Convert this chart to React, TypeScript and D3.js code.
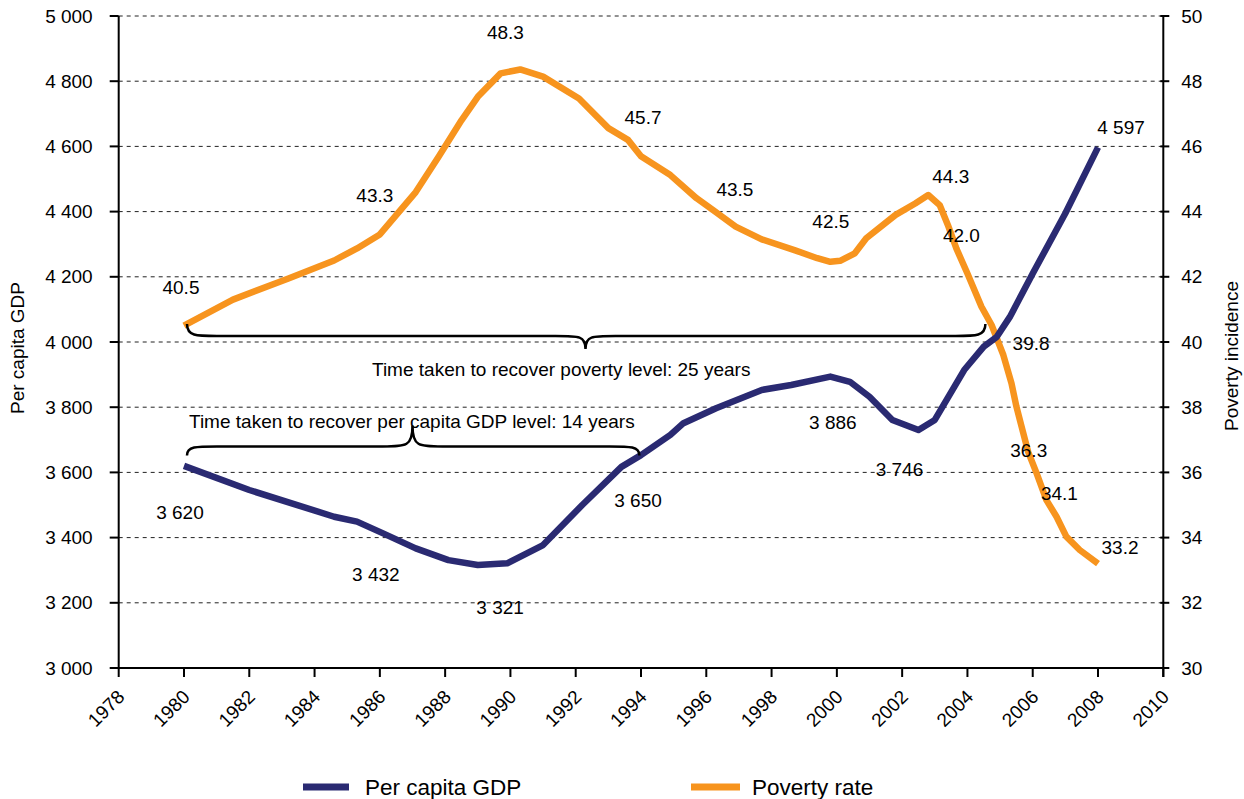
import React from "react";
import * as d3 from "d3";

// per capita GDP (left axis)
const gdpYears = [1980, 1982, 1984.6, 1985.3, 1986.1, 1987.1, 1988.1, 1989, 1989.9, 1991, 1992.2, 1993.4, 1994, 1994.9, 1995.3, 1996.3, 1997.7, 1998.6, 1999.8, 2000.4, 2001, 2001.7, 2002.5, 2003, 2003.9, 2004.5, 2004.9, 2005.3, 2006, 2007, 2008];
const gdpValues = [3620, 3546, 3464, 3449, 3413, 3367, 3331, 3316, 3321, 3377, 3500, 3617, 3653, 3715, 3751, 3797, 3853, 3868, 3894, 3878, 3832, 3761, 3730, 3761, 3914, 3986, 4016, 4077, 4210, 4395, 4597];

// poverty incidence (right axis)
const povYears = [1980, 1981.5, 1983.2, 1984.6, 1985.3, 1986, 1987.1, 1987.8, 1988.5, 1989, 1989.7, 1990.3, 1991, 1992.1, 1993, 1993.6, 1994, 1994.9, 1995.7, 1996.2, 1996.9, 1997.7, 1998.7, 1999.4, 1999.8, 2000.1, 2000.55, 2000.9, 2001.8, 2002.4, 2002.8, 2003.15, 2003.4, 2003.66, 2004, 2004.43, 2004.74, 2005.1, 2005.35, 2005.5, 2005.66, 2005.86, 2006.12, 2006.42, 2006.73, 2007.03, 2007.44, 2008];
const povValues = [40.5, 41.3, 41.95, 42.5, 42.87, 43.3, 44.6, 45.68, 46.8, 47.52, 48.24, 48.36, 48.14, 47.47, 46.56, 46.2, 45.7, 45.12, 44.41, 44.05, 43.54, 43.15, 42.82, 42.57, 42.46, 42.49, 42.72, 43.18, 43.9, 44.25, 44.51, 44.2, 43.59, 42.87, 42.1, 41.08, 40.52, 39.6, 38.73, 38.02, 37.4, 36.63, 35.97, 35.15, 34.64, 34.03, 33.62, 33.2];

// value labels: [year, value, dx, dy]
const gdpLabels: [number, number, number, number][] = [
  [1980, 3620, -4, 47], [1986, 3432, -4, 47], [1989.5, 3321, 6, 44], [1994, 3650, -3, 44],
  [2000, 3886, -4, 43], [2002.5, 3746, -19, 45], [2008, 4597, 23, -20],
];
const povLabels: [number, number, number, number][] = [
  [1980, 40.5, -3, -38], [1986, 43.3, -5, -39], [1990, 48.3, -5, -39], [1994, 45.7, 2, -39],
  [1997, 43.5, -4, -38], [2000, 42.5, -6, -39], [2003, 44.3, 16, -25], [2004, 42.0, -6, -41],
  [2005, 39.8, 31, -5], [2006, 36.3, -4, -12], [2007, 34.1, -6, -41], [2008, 33.2, 22, -16],
];

const xTicks = d3.range(1978, 2011, 2);
const gdpTicks = d3.range(3000, 5001, 200);
const povTicks = d3.range(30, 51, 2);

const BLUE = "#2a2a72";
const ORANGE = "#f7941e";
const FONT = "'Liberation Sans', Arial, sans-serif";
const FS = 19;

const fmt = d3.formatLocale({ decimal: ".", thousands: " ", grouping: [3], currency: ["", ""] }).format(",");

function brace(x1: number, x2: number, xm: number, y0: number, y1: number, y2: number) {
  const q = 30;
  const p = d3.path();
  p.moveTo(x1, y0);
  p.bezierCurveTo(x1, y1, x1 + q * 0.3, y1, x1 + q, y1);
  p.lineTo(xm - q, y1);
  p.bezierCurveTo(xm - q * 0.2, y1, xm, y1, xm, y2);
  p.bezierCurveTo(xm, y1, xm + q * 0.2, y1, xm + q, y1);
  p.lineTo(x2 - q, y1);
  p.bezierCurveTo(x2 - q * 0.3, y1, x2, y1, x2, y0);
  return p.toString();
}

export default function App() {
  const left = 118.7, right = 1163.3, top = 16, bottom = 668;
  const x = d3.scaleLinear().domain([1978, 2010]).range([left, right]);
  const yG = d3.scaleLinear().domain([3000, 5000]).range([bottom, top]);
  const yP = d3.scaleLinear().domain([30, 50]).range([bottom, top]);

  const gdpLine = d3.line<number>().x((_, i) => x(gdpYears[i])).y((d) => yG(d));
  const povLine = d3.line<number>().x((_, i) => x(povYears[i])).y((d) => yP(d));

  return (
    <svg width={1244} height={799} style={{ position: "absolute", left: 0, top: 0, background: "#fff" }} fontFamily={FONT}>
      {/* grid */}
      {gdpTicks.slice(1).map((t) => (
        <line key={t} x1={left} x2={right} y1={yG(t)} y2={yG(t)} stroke="#222" strokeWidth={1} strokeDasharray="4,4" />
      ))}

      {/* lines */}
      <path d={povLine(povValues) || ""} fill="none" stroke={ORANGE} strokeWidth={6.5} strokeLinejoin="round" />
      <path d={gdpLine(gdpValues) || ""} fill="none" stroke={BLUE} strokeWidth={6.5} strokeLinejoin="round" />

      {/* braces */}
      <path d={brace(x(1980) + 3, x(2004.55), x(1992.3), yG(4000) - 18, yG(4000) - 6, yG(4000) + 7)} fill="none" stroke="#000" strokeWidth={2.5} />
      <path d={brace(x(1980) + 3, x(1993.95), x(1987), yG(3600) - 17, yG(3600) - 26, yG(3600) - 47)} fill="none" stroke="#000" strokeWidth={2.5} />
      <text x={372} y={yG(4000) + 27} fontSize={FS} dominantBaseline="central">Time taken to recover poverty level: 25 years</text>
      <text x={189} y={yG(3600) - 51} fontSize={FS} dominantBaseline="central">Time taken to recover per capita GDP level: 14 years</text>

      {/* value labels */}
      {gdpLabels.map(([yr, v, dx, dy]) => (
        <text key={"g" + yr} x={x(yr) + dx} y={yG(v) + dy} fontSize={FS} textAnchor="middle" dominantBaseline="central">{fmt(v)}</text>
      ))}
      {povLabels.map(([yr, v, dx, dy]) => (
        <text key={"p" + yr} x={x(yr) + dx} y={yP(v) + dy} fontSize={FS} textAnchor="middle" dominantBaseline="central">{v.toFixed(1)}</text>
      ))}

      {/* axes */}
      <line x1={left} x2={left} y1={top} y2={bottom} stroke="#000" strokeWidth={2} />
      <line x1={right} x2={right} y1={top} y2={bottom + 9} stroke="#000" strokeWidth={2} />
      <line x1={left} x2={right} y1={bottom} y2={bottom} stroke="#000" strokeWidth={2} />
      {gdpTicks.map((t) => (
        <g key={t}>
          <line x1={left - 9} x2={left} y1={yG(t)} y2={yG(t)} stroke="#000" strokeWidth={2} />
          <text x={left - 26} y={yG(t)} fontSize={FS} textAnchor="end" dominantBaseline="central">{fmt(t)}</text>
        </g>
      ))}
      {povTicks.map((t) => (
        <g key={t}>
          <line x1={right - 3} x2={right + 6} y1={yP(t)} y2={yP(t)} stroke="#000" strokeWidth={2} />
          <text x={right + 18} y={yP(t)} fontSize={FS} dominantBaseline="central">{t}</text>
        </g>
      ))}
      {xTicks.map((t) => (
        <g key={t}>
          <line x1={x(t)} x2={x(t)} y1={bottom} y2={bottom + 9} stroke="#000" strokeWidth={2} />
          <text transform={`translate(${x(t) + 7},${bottom + 30}) rotate(-45)`} fontSize={FS} textAnchor="end">{t}</text>
        </g>
      ))}

      {/* axis titles */}
      <text transform={`translate(24,348) rotate(-90)`} fontSize={FS} textAnchor="middle">Per capita GDP</text>
      <text transform={`translate(1238,356) rotate(-90)`} fontSize={FS} textAnchor="middle">Poverty incidence</text>

      {/* legend */}
      <line x1={303} x2={349} y1={787} y2={787} stroke={BLUE} strokeWidth={7} />
      <text x={365} y={787} fontSize={22.5} dominantBaseline="central">Per capita GDP</text>
      <line x1={691} x2={740} y1={787} y2={787} stroke={ORANGE} strokeWidth={7} />
      <text x={752} y={787} fontSize={22.5} dominantBaseline="central">Poverty rate</text>
    </svg>
  );
}
